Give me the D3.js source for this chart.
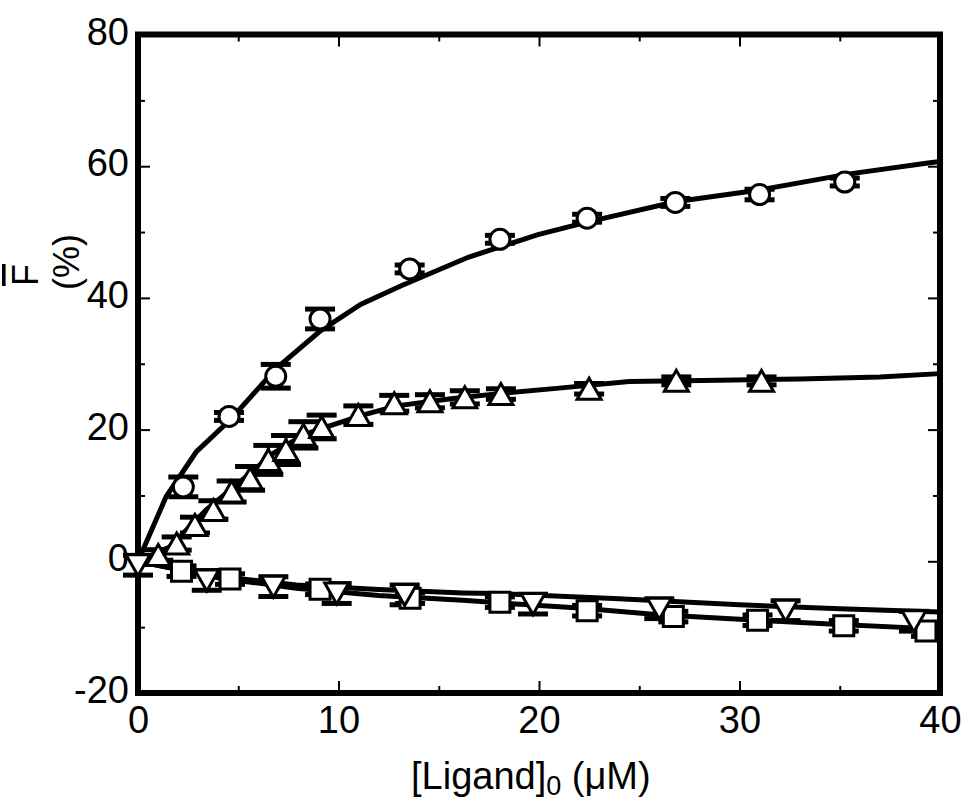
<!DOCTYPE html>
<html>
<head>
<meta charset="utf-8">
<script src="https://cdn.jsdelivr.net/npm/d3@7"></script>
<style>
  body { margin: 0; background: #fff; }
  text { font-family: "Liberation Sans", Arial, sans-serif; fill: #000; }
</style>
</head>
<body>
<div id="chart"></div>
<script>
// Axis ticks
const xTicks = [0, 10, 20, 30, 40];
const xMinor = [5, 15, 25, 35];
const yTicks = [-20, 0, 20, 40, 60, 80];
const yMinor = [-10, 10, 30, 50, 70];

// Open circles
const circX = [2.26, 4.54, 6.87, 9.08, 13.55, 18.05, 22.4, 26.8, 31.0, 35.25];
const circY = [11.3, 22.0, 28.1, 36.8, 44.4, 48.9, 52.1, 54.5, 55.7, 57.6];
const circErr = [1.5, 0.6, 1.8, 1.5, 0.6, 0.6, 0.6, 0.6, 0.8, 0.6];
const circFitX = [0, 1.4, 2.9, 4.6, 6.9, 9.1, 11.1, 13.1, 16.5, 19.95, 22.4, 26.8, 31, 35.4, 39.4, 40];
const circFitY = [0, 9.8, 16.6, 21.5, 29.3, 35.0, 39.0, 41.8, 46.2, 49.6, 51.5, 54.6, 56.4, 58.8, 60.5, 60.7];

// Open triangles (up)
const triUpX = [1.01, 1.93, 2.84, 3.76, 4.67, 5.59, 6.5, 7.38, 8.25, 9.16, 10.99, 12.78, 14.56, 16.3, 18.1, 22.5, 26.85, 31.1];
const triUpY = [0.96, 2.7, 5.5, 7.8, 10.6, 12.6, 15.4, 16.9, 19.2, 20.4, 22.2, 24.0, 24.3, 24.9, 25.4, 26.2, 27.4, 27.4];
const triUpErr = [0.8, 1.0, 1.2, 1.4, 1.6, 1.8, 2.2, 2.2, 2.0, 1.8, 1.4, 1.2, 1.0, 1.0, 0.8, 0.8, 0.6, 0.6];
const triUpFitX = [0, 1.6, 3.4, 5.1, 6.75, 8.25, 9.6, 11.2, 12.9, 15.6, 18.1, 21, 24.5, 29, 33, 37, 40];
const triUpFitY = [0, 2.2, 7.8, 12.1, 16.4, 19.2, 20.6, 22.2, 23.6, 24.7, 25.5, 26.3, 27.3, 27.5, 27.7, 28.0, 28.5];

// Open squares
const sqX = [2.17, 4.59, 9.08, 13.57, 18.05, 22.4, 26.7, 30.9, 35.2, 39.3];
const sqY = [-1.5, -2.7, -4.25, -5.6, -6.2, -7.5, -8.4, -8.95, -9.8, -10.6];
const sqErr = [0.8, 0.8, 0.8, 0.8, 0.8, 0.8, 0.8, 0.8, 0.8, 0.8];
const sqFitX = [0, 1.6, 4, 7.9, 12, 16.2, 18, 22, 26, 30, 35, 40];
const sqFitY = [0, -1.0, -2.5, -4.1, -5.2, -5.9, -6.3, -7.1, -8.1, -8.8, -9.6, -10.3];

// Open triangles (down)
const triDnX = [0, 3.43, 6.75, 9.91, 13.3, 19.7, 26.0, 32.3, 38.7];
const triDnY = [-0.6, -2.9, -3.85, -4.9, -5.1, -6.5, -7.2, -7.5, -9.1];
const triDnErr = [1.5, 1.5, 1.5, 1.5, 1.5, 1.5, 1.5, 1.5, 1.5];
const triDnFitX = [0, 1.6, 4, 7.9, 12, 16.2, 18, 24, 30, 35, 40];
const triDnFitY = [0, -1.0, -2.3, -3.6, -4.3, -4.8, -4.9, -5.7, -6.6, -7.2, -7.7];

const svg = d3.select("#chart")
  .append("svg")
    .attr("width", 967)
    .attr("height", 804);

const x = d3.scaleLinear().domain([0, 40]).range([138, 940]);
const y = d3.scaleLinear().domain([-20, 80]).range([693, 34.5]);

// Ticks, all pointing into the plot
function ticks(axis, transform, vals, size, labels, pad) {
  const g = svg.append("g")
    .attr("transform", transform)
    .call(axis.tickValues(vals).tickSize(size).tickPadding(pad || 0)
      .tickFormat(labels ? d => String(d) : ""));
  g.select(".domain").remove();
  g.selectAll(".tick line").attr("stroke", "#000").attr("stroke-width", 2);
  g.selectAll("text")
    .style("font-size", "38px")
    .attr("fill", "#000");
  return g;
}

ticks(d3.axisBottom(x), "translate(0,693)", xTicks, -12, true, 13);
ticks(d3.axisBottom(x), "translate(0,693)", xMinor, -7, false);
ticks(d3.axisTop(x), "translate(0,34.5)", xTicks, -12, false);
ticks(d3.axisTop(x), "translate(0,34.5)", xMinor, -7, false);
const yl = ticks(d3.axisLeft(y), "translate(138,0)", yTicks, -12, true, 9);
yl.selectAll("text").attr("dy", "0.25em");
ticks(d3.axisLeft(y), "translate(138,0)", yMinor, -7, false);
ticks(d3.axisRight(y), "translate(940,0)", yTicks, -12, false);
ticks(d3.axisRight(y), "translate(940,0)", yMinor, -7, false);

// Frame
svg.append("rect")
  .attr("x", x(0))
  .attr("y", y(80))
  .attr("width", x(40) - x(0))
  .attr("height", y(-20) - y(80))
  .attr("fill", "none")
  .attr("stroke", "#000")
  .attr("stroke-width", 6);

// Fit lines
const line = d3.line().x(d => x(d[0])).y(d => y(d[1]));
[[circFitX, circFitY], [triUpFitX, triUpFitY], [sqFitX, sqFitY], [triDnFitX, triDnFitY]]
  .forEach(([fx, fy]) => {
    svg.append("path")
      .datum(d3.zip(fx, fy))
      .attr("d", line)
      .attr("fill", "none")
      .attr("stroke", "#000")
      .attr("stroke-width", 5);
  });

// Error bars
function errorBars(xs, ys, es) {
  const g = svg.append("g");
  const data = d3.zip(xs, ys, es);
  g.selectAll(".stem").data(data).join("line")
    .attr("x1", d => x(d[0])).attr("x2", d => x(d[0]))
    .attr("y1", d => y(d[1] - d[2])).attr("y2", d => y(d[1] + d[2]))
    .attr("stroke", "#000").attr("stroke-width", 3);
  [-1, 1].forEach(s => {
    g.selectAll(".cap" + s).data(data).join("line")
      .attr("x1", d => x(d[0]) - 15).attr("x2", d => x(d[0]) + 15)
      .attr("y1", d => y(d[1] + s * d[2])).attr("y2", d => y(d[1] + s * d[2]))
      .attr("stroke", "#000").attr("stroke-width", 5);
  });
}
errorBars(circX, circY, circErr);
errorBars(triUpX, triUpY, triUpErr);
errorBars(sqX, sqY, sqErr);
errorBars(triDnX, triDnY, triDnErr);

// Markers
function markers(xs, ys, path) {
  svg.append("g").selectAll("path")
    .data(d3.zip(xs, ys))
    .join("path")
      .attr("transform", d => `translate(${x(d[0])},${y(d[1])})`)
      .attr("d", path)
      .attr("fill", "#fff")
      .attr("stroke", "#000")
      .attr("stroke-width", 3)
      .attr("stroke-linejoin", "miter");
}
markers(circX, circY, "M10,0A10,10 0 1,1 -10,0A10,10 0 1,1 10,0Z");
markers(triUpX, triUpY, "M0,-10.5L12,10.5L-12,10.5Z");
markers(sqX, sqY, "M-10,-10H10V10H-10Z");
markers(triDnX, triDnY, "M0,10.5L12,-10.5L-12,-10.5Z");

// Axis titles
svg.append("text")
  .attr("x", 411)
  .attr("y", 789)
  .style("font-size", "38px")
  .call(t => {
    t.append("tspan").text("[Ligand]");
    t.append("tspan").attr("dy", 6).style("font-size", "27px").text("0");
    t.append("tspan").attr("dy", -6).text(" (μM)");
  });

svg.append("text")
  .attr("transform", "translate(38,275) rotate(-90)")
  .attr("text-anchor", "middle")
  .style("font-size", "36px")
  .style("text-decoration", "overline")
  .text("F");

svg.append("text")
  .attr("transform", "translate(79,262) rotate(-90)")
  .attr("text-anchor", "middle")
  .style("font-size", "36px")
  .text("(%)");
</script>
</body>
</html>
